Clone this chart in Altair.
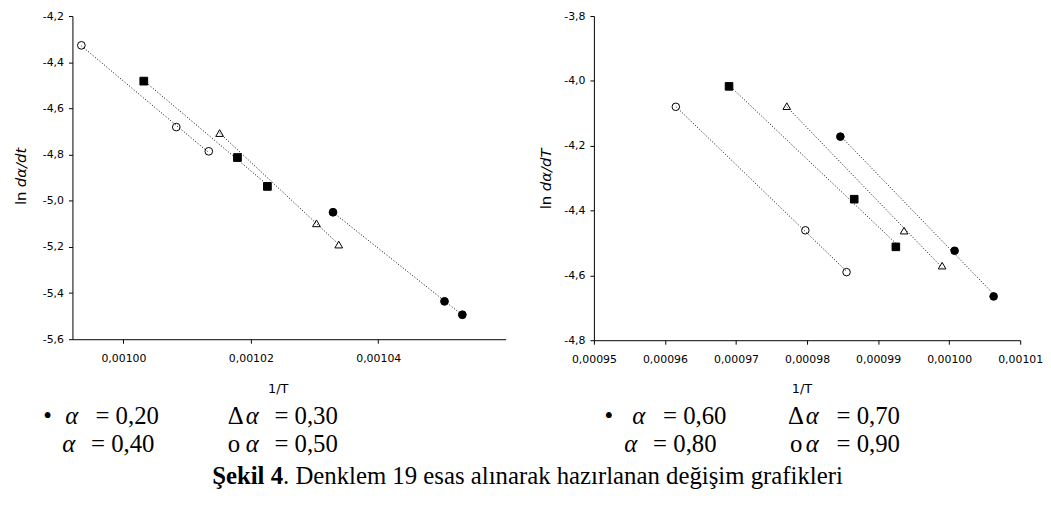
import altair as alt
import pandas as pd

# ---------------- data ----------------
left_labels = ["0,20", "0,30", "0,40", "0,50"]
right_labels = ["0,60", "0,70", "0,80", "0,90"]
legend_symbols = ["•", "Δ", "", "o"]

# left panel, ln(dα/dt) vs 1/T
a020_x = [0.0010329, 0.0010504, 0.0010532]
a020_y = [-5.050, -5.436, -5.494]
a030_x = [0.0010151, 0.0010303, 0.0010338]
a030_y = [-4.707, -5.098, -5.190]
a040_x = [0.0010032, 0.0010179, 0.0010226]
a040_y = [-4.482, -4.813, -4.938]
a050_x = [0.0009934, 0.0010083, 0.0010134]
a050_y = [-4.327, -4.681, -4.786]

# right panel, ln(dα/dT) vs 1/T
a060_x = [0.00098469, 0.00100077, 0.00100626]
a060_y = [-4.172, -4.524, -4.665]
a070_x = [0.00097715, 0.00099365, 0.00099901]
a070_y = [-4.078, -4.462, -4.570]
a080_x = [0.00096902, 0.00098664, 0.00099250]
a080_y = [-4.017, -4.365, -4.512]
a090_x = [0.00096153, 0.00097976, 0.00098556]
a090_y = [-4.080, -4.461, -4.590]

left_xticks = [0.00100, 0.00102, 0.00104]
left_yticks = [-5.6, -5.4, -5.2, -5.0, -4.8, -4.6, -4.4, -4.2]
right_xticks = [0.00095, 0.00096, 0.00097, 0.00098, 0.00099, 0.00100, 0.00101]
right_yticks = [-4.8, -4.6, -4.4, -4.2, -4.0, -3.8]

x_title = "1/T"
left_y_title = ["ln", "dα/dt"]
right_y_title = ["ln", "dα/dT"]
caption_bold = "Şekil 4"
caption_rest = ". Denklem 19 esas alınarak hazırlanan değişim grafikleri"

SERIF = "Liberation Serif"
SANS = "DejaVu Sans"


def frame(labels, xs, ys):
    rows = []
    for lab, xv, yv in zip(labels, xs, ys):
        for a, b in zip(xv, yv):
            rows.append({"series": lab, "x": a, "y": b})
    return pd.DataFrame(rows)


def txt(text, x, y, size, font=SERIF, style="normal", weight="normal",
        align="left", angle=None, baseline="alphabetic"):
    kw = dict(align=align, baseline=baseline, font=font, fontSize=size,
              fontStyle=style, fontWeight=weight, color="black")
    if angle is not None:
        kw["angle"] = angle
    return alt.Chart(pd.DataFrame({"t": [text]})).mark_text(**kw).encode(
        x=alt.value(x), y=alt.value(y), text="t:N")


num_y = "(datum.value < 0 ? '-' : '') + replace(format(abs(datum.value), '.1f'), '.', ',')"
num_x = "replace(format(datum.value, '.5f'), '.', ',')"


def panel(df, labels, xdom, ydom, xticks, yticks):
    xenc = alt.X("x:Q", scale=alt.Scale(domain=xdom, nice=False, zero=False),
                 axis=alt.Axis(values=xticks, labelExpr=num_x, title=None,
                               labelPadding=9))
    yenc = alt.Y("y:Q", scale=alt.Scale(domain=ydom, nice=False, zero=False),
                 axis=alt.Axis(values=yticks, labelExpr=num_y, title=None,
                               labelPadding=5))
    base = alt.Chart(df)
    pts = base.mark_point(stroke="black", strokeWidth=1, opacity=1).encode(
        x=xenc, y=yenc,
        shape=alt.Shape("series:N", scale=alt.Scale(
            domain=labels, range=["circle", "triangle-up", "square", "circle"]), legend=None),
        fill=alt.Fill("series:N", scale=alt.Scale(
            domain=labels, range=["black", "white", "black", "white"]), legend=None),
        size=alt.Size("series:N", scale=alt.Scale(
            domain=labels, range=[62, 58, 56, 50]), legend=None),
    )
    lines = base.transform_regression("x", "y", groupby=["series"]).mark_line(
        color="black", strokeWidth=1, strokeDash=[1, 2]).encode(
        x="x:Q", y="y:Q", detail="series:N")
    return pts, lines


# ---------------- left panel ----------------
LW, LH = 437, 326
ldf = frame(left_labels, [a020_x, a030_x, a040_x, a050_x], [a020_y, a030_y, a040_y, a050_y])
lp, ll = panel(ldf, left_labels, [0.000992, 0.00106], [-5.6, -4.2], left_xticks, left_yticks)
r1, r2, rc = 411.7, 440.0, 471.7
left_texts = [
    txt(left_y_title[0], -46.6, 190.7, 15, font=SANS, angle=270),
    txt(left_y_title[1], -46.6, 172.7, 15, font=SANS, style="italic", angle=270),
    txt(x_title, 207.5, 380, 13, font=SANS, align="center"),
    txt(legend_symbols[0], -25, r1, 25, align="center"),
    txt("α", -7.3, r1, 25, style="italic"),
    txt("= " + left_labels[0], 23.2, r1, 25),
    txt(legend_symbols[1], 156.7, r1, 25),
    txt("α", 174.7, r1, 25, style="italic"),
    txt("= " + left_labels[1], 203.7, r1, 25),
    txt("α", -10.3, r2, 25, style="italic"),
    txt("= " + left_labels[2], 18.7, r2, 25),
    txt(legend_symbols[3], 156.7, r2, 25),
    txt("α", 174.7, r2, 25, style="italic"),
    txt("= " + left_labels[3], 203.7, r2, 25),
    txt(caption_bold, 212.4, rc, 25, weight="bold", align="right"),
    txt(caption_rest, 212.4, rc, 25, align="left"),
]
left = alt.layer(lp, ll, *left_texts).properties(width=LW, height=LH)

# ---------------- right panel ----------------
RW, RH = 430, 327
rdf = frame(right_labels, [a060_x, a070_x, a080_x, a090_x], [a060_y, a070_y, a080_y, a090_y])
rp, rl = panel(rdf, right_labels, [0.00095, 0.00101], [-4.8, -3.8], right_xticks, right_yticks)
right_texts = [
    txt(right_y_title[0], -43.6, 195.0, 15, font=SANS, angle=270),
    txt(right_y_title[1], -43.6, 176.7, 15, font=SANS, style="italic", angle=270),
    txt(x_title, 209.9, 380, 13, font=SANS, align="center"),
    txt(legend_symbols[0], 15, r1, 25, align="center"),
    txt("α", 38.7, r1, 25, style="italic"),
    txt("= " + right_labels[0], 69.7, r1, 25),
    txt(legend_symbols[1], 195.7, r1, 25),
    txt("α", 213.7, r1, 25, style="italic"),
    txt("= " + right_labels[1], 244.7, r1, 25),
    txt("α", 30.7, r2, 25, style="italic"),
    txt("= " + right_labels[2], 59.7, r2, 25),
    txt(legend_symbols[3], 197.7, r2, 25),
    txt("α", 213.7, r2, 25, style="italic"),
    txt("= " + right_labels[3], 244.7, r2, 25),
]
right = alt.layer(rp, rl, *right_texts).properties(width=RW, height=RH)

chart = alt.hconcat(left, right, spacing=89, bounds="flush").properties(
    padding={"left": 6, "top": 0, "right": 0, "bottom": 0}
).configure_view(stroke=None).configure_axis(
    grid=False, domainColor="black", domainWidth=1, tickColor="black",
    tickSize=4, labelFont=SANS, labelFontSize=11, labelColor="black",
    labelFlush=False,
)

chart.save("out.html", embed_options={"renderer": "svg", "actions": False})
